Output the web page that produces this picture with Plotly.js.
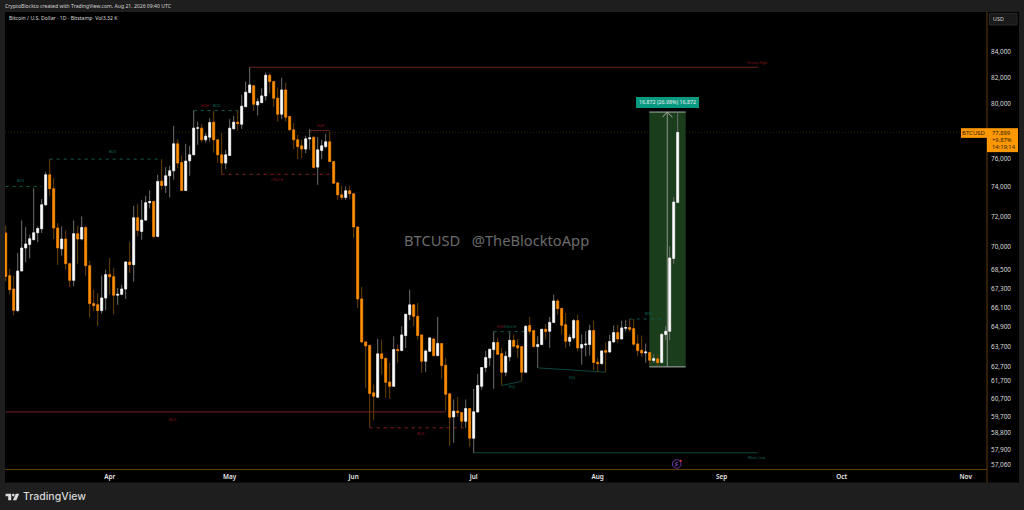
<!DOCTYPE html>
<html>
<head>
<meta charset="utf-8">
<script src="https://cdn.plot.ly/plotly-3.0.1.min.js"></script>
<style>
html,body{margin:0;padding:0;background:#1e1e1e;width:1024px;height:510px;overflow:hidden}
#chart{position:absolute;left:0;top:0;width:1024px;height:510px}
svg.over{position:absolute;left:0;top:0;pointer-events:none}
</style>
</head>
<body>
<div id="chart"></div>
<svg class="over" width="1024" height="510">
  <g fill="#dcdcdc">
    <path d="M5.6 493.8h5.6v6.4h-3v-3.9h-2.6z"/><circle cx="13.3" cy="495.1" r="1.3"/><path d="M15.8 493.8h3.4l-2.9 6.4h-3.4z"/>
  </g>
  <g fill="none">
    <circle cx="676.7" cy="464" r="4.3" stroke="#6b2fa0" stroke-width="1"/>
    <path d="M678 462l-2.6 1.8 2.2.8-2.7 1.6" stroke="#9c4fd0" stroke-width=".8"/>
  </g>
  <circle cx="680.7" cy="460.8" r="1.1" fill="#e8323c"/>
  <circle cx="672.6" cy="465" r=".8" fill="#4a3fb5"/>
</svg>
<script>
// Daily candles from 2026-03-06, USD
var open = [70890,68110,67265,65915,68410,69900,70135,70444,70905,71170,72790,74865,73890,71220,69850,70490,68880,67810,70840,70490,71260,68750,66350,66285,65915,66700,68175,68045,66870,66930,67265,68990,68815,71910,70990,71750,72930,73015,70660,74420,74115,74795,75145,77070,75730,73770,75850,76280,78210,78210,77357,77550,78650,77357,76280,75690,76230,78160,78650,78500,79800,80860,81390,79930,80100,80610,82190,81700,80435,79240,81064,79070,78085,77357,76925,76690,77430,77550,75405,76590,76870,77215,75800,74300,73475,73290,73750,73545,71290,66640,64010,63800,61025,60775,63295,63030,61650,61400,63550,63490,64390,65670,66270,65560,64430,62860,63450,64190,63195,63910,62620,60970,59665,59985,59910,59420,60135,58485,59935,61400,62490,63060,63550,63970,63310,62215,63120,64105,63790,63730,62215,65000,64690,63730,63850,64770,64650,65190,66515,66050,65050,64045,64250,65300,63650,63830,63850,64690,62800,62720,63490,63410,64010,64570,64190,64830,64880,64810,63890,63510,63350,63370,62900,63000,62780,64450,64650,69220,72950];
var high = [71390,68540,68110,69570,71730,71290,70775,73935,71325,73180,75075,75970,74630,71550,71325,71060,68950,71730,71370,72000,71330,69070,67220,67010,68110,68490,69250,68600,67330,67540,69040,70330,72720,72860,73130,73405,73770,73060,74865,75970,75405,75500,78375,77410,76230,77070,76925,79510,78695,78500,77845,78945,79485,77410,77845,76636,78870,79115,79510,80685,81700,82800,81445,80435,81190,82400,82290,81750,81240,82000,81620,79115,78580,77720,77357,77650,78140,77570,77550,77357,77790,77960,75850,74320,74095,74050,74095,73600,71330,67395,64040,63830,61500,64190,64148,63070,62765,64345,63850,64955,65700,67222,66290,66390,64450,63550,64310,64210,65525,63930,63060,60990,60643,60795,59930,60643,60150,61255,62120,62500,63470,63590,64630,64250,63650,63450,64590,64450,64190,63740,65000,65525,64700,64345,64790,65090,65525,66910,66640,66070,65770,64450,65400,65670,64450,64650,65050,65300,63060,63510,63985,64430,65000,65050,65300,65320,65400,65400,64450,64390,63910,63390,63270,63250,64490,64955,70000,73320,79390];
var low = [67750,66910,65620,65810,68410,68960,69220,70444,70270,70890,72700,73405,70490,68795,69395,68490,67370,67430,68880,70400,68110,65480,65870,64950,65730,65930,66910,65670,66270,66870,66640,68280,67730,70660,70440,71730,72540,70555,70610,73820,73590,73290,74514,75335,73740,73740,74795,76260,77000,77160,77160,77235,76440,75690,74865,75265,76230,78160,78030,78160,79800,80810,79485,79140,80100,80255,80810,79800,78695,78870,78695,78030,76690,75970,76040,76400,76636,75285,74165,75970,76760,75800,74230,73130,73130,73130,73180,70555,66080,63950,61310,59060,59480,60720,62080,60740,60680,61360,62765,63490,63650,65320,64955,64148,62180,62240,63410,63120,63155,61850,59985,58050,58235,59665,59060,59060,58015,57690,59935,61214,62215,62570,61255,63250,61445,61980,62860,63650,63060,61690,62180,64450,63690,62470,63830,64148,63650,65150,65670,64450,63650,63745,64148,63450,62660,63155,63195,62330,62215,62660,62215,63350,63950,63950,64148,64650,64610,63790,63155,63120,62765,62660,62765,62570,62765,64105,64105,68860,72950];
var close = [68060,67220,65930,68410,69900,70160,70510,70905,71190,72790,74865,73890,71220,69900,70490,68880,67810,70840,70490,71260,68750,66350,66220,65915,66700,68175,68045,66870,66930,67265,68990,68815,71910,71060,71750,72930,73015,70660,74395,74115,74795,75145,77070,75690,73770,75830,76280,78210,78230,77357,77625,78620,77357,76280,75690,76280,78210,78650,78545,79835,80890,81445,79985,80180,80610,82190,81700,80435,79240,81064,79020,78085,77357,76870,76690,77430,77500,75380,76636,76925,77215,75800,74280,73475,73290,73750,73545,71290,66640,64010,63770,60985,60830,63295,63015,61630,61400,63550,63490,64430,65690,66270,65560,64390,62860,63470,64250,63195,63910,62605,60945,59645,59985,59910,59420,60135,58485,59950,61445,62490,63075,63570,63970,63270,62215,63155,64105,63745,63650,62215,64955,64650,63730,63850,64770,64630,65190,66515,66035,65010,64045,64285,65300,63650,63850,63880,64690,62780,62720,63470,63390,64030,64570,64190,64855,64880,64770,63870,63490,63350,63410,62915,63015,62780,64470,64650,69250,72975,77899];

var priceTicks = [84000,82000,80000,76000,74000,72000,70000,68500,67300,66100,64900,63700,62560,61700,60700,59700,58800,57840,57060];
var priceTickLabels = ["84,000","82,000","80,000","76,000","74,000","72,000","70,000","68,500","67,300","66,100","64,900","63,700","62,700","61,700","60,700","59,700","58,800","57,900","57,060"];
var monthTicks = ["2026-04-01","2026-05-01","2026-06-01","2026-07-01","2026-08-01","2026-09-01","2026-10-01","2026-11-01"];
var monthLabels = ["Apr","May","Jun","Jul","Aug","Sep","Oct","Nov"];

// structure levels: [start day index, start price, end day index, end price, kind]
var levels = [
  [61,82800,188,82800,"red"],
  [117,57690,188,57690,"teal"],
  [0,59950,110,59950,"redSoft"],
  [76,78030,81,78030,"red"],
  [124,61445,129,61690,"teal"],
  [133,62470,150,62215,"teal"],
  [11,75970,39,75970,"tealDash"],
  [0,74050,9,74050,"tealDash"],
  [47,79510,58,79510,"tealDash"],
  [122,64630,130,64630,"tealDash"],
  [156,65400,165,65400,"tealDash"],
  [54,74900,81,74900,"redDash"],
  [91,59060,115,59060,"redDash"]
];
// level captions: [text, day index, price, colour key]
var captions = [
  ["Strong High",187.8,83212,"r"],["Weak Low",187.8,57420,"t"],
  ["BOS",26.6,76490,"t"],["BOS",3.8,74445,"t"],["EQH",49.8,79880,"r"],["BOS",52.8,79910,"t"],
  ["CHoCH",67.8,74514,"r"],["EQH",78.8,78375,"r"],["BOS",41.7,59535,"r"],["BOS",103.75,58770,"r"],
  ["EQH",123.8,64955,"r"],["CHoCH",126.2,64955,"t"],["EQL",126.8,61400,"t"],["EQL",141.75,61880,"t"],["BOS",160.8,65745,"t"]
];
var measureLow = 62528, measureHigh = 79400, lastPrice = 77899;

var FONT = '"Noto Sans", sans-serif';
var DAY = 86400000, T0 = Date.UTC(2026,2,6);
function day(i){return new Date(T0+i*DAY).toISOString().replace('T',' ').replace('Z','');}
var dates = close.map(function(_,i){return day(i);});
var bodyTop = open.map(function(o,i){return Math.max(o,close[i]);});
var bodyBot = open.map(function(o,i){return Math.min(o,close[i]);});

var wicks = {type:'candlestick',x:dates,open:open,high:high,low:low,close:close,whiskerwidth:0,hoverinfo:'skip',showlegend:false,
  increasing:{line:{color:'#6e6e6e',width:1},fillcolor:'rgba(0,0,0,0)'},
  decreasing:{line:{color:'#6a3f05',width:1},fillcolor:'rgba(0,0,0,0)'}};
var bodies = {type:'candlestick',x:dates,open:open,high:bodyTop,low:bodyBot,close:close,whiskerwidth:0,hoverinfo:'skip',showlegend:false,
  increasing:{line:{color:'#ffffff',width:0.6},fillcolor:'#ffffff'},
  decreasing:{line:{color:'#ff8c00',width:0.6},fillcolor:'#ff8c00'}};

var L=5,R=987,T=12,B=469.5;
function px(x){return (x-L)/(R-L);}
function py(y){return (B-y)/(B-T);}
function rect(x0,y0,x1,y1,fill,line,layer){return {type:'rect',xref:'paper',yref:'paper',x0:px(x0),x1:px(x1),y0:py(y0),y1:py(y1),fillcolor:fill,line:{color:line||fill,width:line?1:0},layer:layer||'above'};}
function txt(t,x,y,size,color,anchor,extra){var a={text:t,xref:'paper',yref:'paper',x:px(x),y:py(y),xanchor:anchor||'left',yanchor:'middle',showarrow:false,borderpad:0,font:{family:FONT,size:size,color:color}};for(var k in (extra||{}))a.font[k]=extra[k];return a;}

var LS={red:{color:'#6c2420',width:1},teal:{color:'#0c483f',width:1},redSoft:{color:'#5c1a22',width:1.2},
  tealDash:{color:'#0f5a50',width:1,dash:'3px,4px'},redDash:{color:'#8a1c24',width:1,dash:'3px,4px'}};
var shapes=[rect(L,T,1019,483,'#000000',null,'below')];
shapes.push({type:'rect',x0:day(160.9),x1:day(170),y0:measureLow,y1:measureHigh,fillcolor:'#1a3d1c',line:{width:0},layer:'below'});
shapes.push({type:'line',x0:day(160.9),x1:day(170),y0:measureLow,y1:measureLow,line:{color:'#a9aea9',width:1},layer:'below'});
shapes.push({type:'line',x0:day(160.9),x1:day(170),y0:measureHigh,y1:measureHigh,line:{color:'#a9aea9',width:1},layer:'below'});
shapes.push({type:'line',x0:day(165.4),x1:day(165.4),y0:measureLow,y1:measureHigh,line:{color:'#8c968c',width:1},layer:'below'});
shapes.push({type:'line',x0:day(164.2),x1:day(165.4),y0:79020,y1:measureHigh,line:{color:'#aab0aa',width:1},layer:'above'});
shapes.push({type:'line',x0:day(165.4),x1:day(166.7),y0:measureHigh,y1:79020,line:{color:'#aab0aa',width:1},layer:'above'});
shapes.push({type:'line',xref:'paper',x0:0,x1:1,y0:lastPrice,y1:lastPrice,line:{color:'#2e1c04',width:1,dash:'1px,2px'},layer:'below'});
levels.forEach(function(l){shapes.push({type:'line',x0:day(l[0]),x1:day(l[2]),y0:l[1],y1:l[3],line:LS[l[4]],layer:'below'});});
shapes.push({type:'line',xref:'paper',yref:'paper',x0:1,x1:1,y0:py(483),y1:py(T),line:{color:'#5f3c08',width:1},layer:'above'});
// price-scale chips and measure label
shapes.push(rect(636,97,699,108,'#089981'));
shapes.push(rect(961,128.3,987,138,'#ff9800'));
shapes.push(rect(987,128.3,1018,152.3,'#ff9800'));
shapes.push(rect(989.5,13.5,1017,25,'#1a1a1a','#2a2a2a'));

var CAP={r:'#86141f',t:'#0d6a5a'};
var ann=captions.map(function(c){return {text:c[0],x:day(c[1]),y:Math.log10(c[2]),xanchor:'center',yanchor:'middle',showarrow:false,borderpad:0,font:{family:FONT,size:3.6,color:CAP[c[3]]}};});
ann.push(txt('CryptoBlockto created with TradingView.com, Aug 21, 2026 09:40 UTC',4,6,5.1,'#d4d4d4'));
ann.push(txt('Bitcoin / U.S. Dollar · 1D · Bitstamp\u00a0\u00a0Vol3.32 K',8,18,5.2,'#d8d8d8'));
ann.push(txt('BTCUSD\u00a0\u00a0\u00a0@TheBlocktoApp',496,240,14.7,'#6b6b6b','center'));
ann.push(txt('16,872 (26.98%) 16,872',667.5,102.5,5.3,'#f0f0f0','center'));
ann.push(txt('BTCUSD',974,133.2,6,'#2a1a00','center'));
ann.push(txt('77,899',991.5,132.8,5.8,'#2a1a00'));
ann.push(txt('+9.87%',991.5,140,5.8,'#2a1a00'));
ann.push(txt('14:19:14',991.5,147.3,5.8,'#2a1a00'));
ann.push(txt('USD',992.5,19.3,5.4,'#cfcfcf'));
ann.push(txt('TradingView',22,497,10.5,'#d6d6d6','left',{family:'Inter, sans-serif',weight:500}));

Plotly.newPlot('chart',[wicks,bodies],{
  width:1024,height:510,autosize:false,
  margin:{l:L,r:1024-R,t:T,b:510-B,pad:0},
  paper_bgcolor:'rgba(0,0,0,0)',plot_bgcolor:'#000000',
  showlegend:false,dragmode:false,
  xaxis:{type:'date',range:[day(-0.17),day(245.33)],rangeslider:{visible:false},tickmode:'array',tickvals:monthTicks,ticktext:monthLabels,
    showgrid:false,zeroline:false,showline:true,linecolor:'#5f3c08',linewidth:1,ticks:'',tickangle:0,ticklabelstandoff:1,
    tickfont:{family:FONT,size:6.4,color:'#e6e6e6',weight:600}},
  yaxis:{type:'log',side:'right',range:[Math.log10(56820),Math.log10(87206)],tickmode:'array',tickvals:priceTicks,ticktext:priceTickLabels,
    showgrid:false,zeroline:false,showline:false,ticks:'',ticklabelstandoff:3,
    tickfont:{family:FONT,size:6.4,color:'#dcdcdc'}},
  shapes:shapes,annotations:ann
},{staticPlot:true,displayModeBar:false});
</script>
</body>
</html>
